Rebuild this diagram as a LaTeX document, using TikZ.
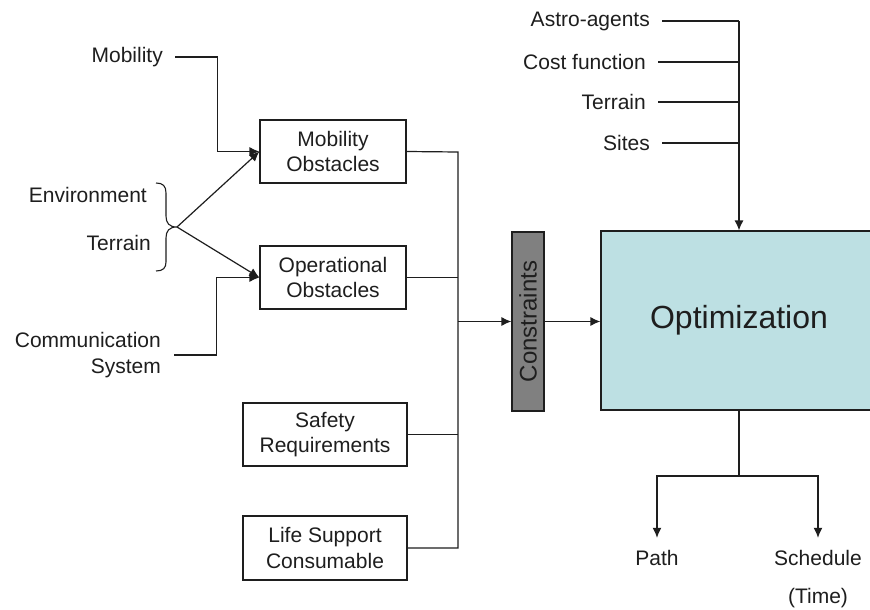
\documentclass[tikz,border=0pt]{standalone}
\usepackage{fontspec}
\setmainfont{Liberation Sans}
\usetikzlibrary{arrows.meta,calc}
\definecolor{optfill}{RGB}{189,224,227}
\definecolor{consfill}{RGB}{128,128,128}
\definecolor{ink}{RGB}{30,30,30}
\tikzset{
  txt/.style={font=\fontsize{21}{25.5}\selectfont, text=ink},
  lbl/.style={txt, inner xsep=12pt, inner ysep=2pt, align=right, anchor=east},
  boxnode/.style={txt, draw=ink, fill=white, line width=1.2pt, align=center, minimum height=63pt, inner sep=0pt},
  ln/.style={draw=ink, line width=1.2pt},
  arr/.style={ln, -{Latex[length=10pt,width=9pt]}},
  outnode/.style={txt, minimum height=40pt, inner sep=0pt}
}
\begin{document}
\begin{tikzpicture}[x=1pt,y=-1pt]
\useasboundingbox (0,0) rectangle (870,610);
\clip (0,0) rectangle (870,610);
\fill[white] (0,0) rectangle (870,610);

% boxes
\node[boxnode, minimum width=146pt] (mobobs) at (333,151.5) {Mobility\\Obstacles};
\node[boxnode, minimum width=146pt] (opobs) at (333,277.5) {Operational\\Obstacles};
\node[boxnode, minimum width=164pt] (safe) at (325,434.5) {Safety\\Requirements};
\node[boxnode, minimum width=164pt, minimum height=64pt] (life) at (325,548) {Life Support\\Consumable};

\node[draw=ink, fill=consfill, line width=1.2pt, minimum width=32pt, minimum height=179pt, inner sep=0pt] (cons) at (528,321.5) {};
\node[font=\fontsize{24}{28}\selectfont, text=ink, rotate=90] (constxt) at (cons.center) {Constraints};

\node[draw=ink, fill=optfill, line width=1.2pt, minimum width=276pt, minimum height=179pt, inner sep=0pt,
      font=\fontsize{32}{38}\selectfont, text=ink] (opt) at (739,320.5) {Optimization};

% left labels
\node[lbl] (mob) at (175,57) {Mobility};
\node[lbl, inner xsep=0pt] (env) at (147,195) {Environment};
\node[lbl, inner xsep=0pt] (ter) at (151,243) {Terrain};
\node[lbl, inner xsep=13pt] (comm) at (174,355) {Communication\\System};

% right-top labels
\node[lbl] (astro) at (662,21) {Astro-agents};
\node[lbl] (cost) at (658,62) {Cost function};
\node[lbl] (ter2) at (658,102) {Terrain};
\node[lbl] (sites) at (662,143) {Sites};

% outputs
\node[outnode] (path) at (657,558) {Path};
\node[outnode] (sched) at (818,558) {Schedule};
\node[txt, inner sep=0pt] (time) at (818,598) {(Time)};

% brace
\coordinate (brtip) at (177,227);
\draw[ln, line width=1.1pt] (156,183) .. controls (163,183) and (166,186) .. (166,193) -- (166,216)
  .. controls (166,223) and (169,227) .. (brtip)
  .. controls (169,227) and (166,231) .. (166,238) -- (166,262)
  .. controls (166,268) and (163,271) .. (156,271);

% left connectors
\draw[arr] (mob.east) -| ($(mobobs.west)+(-42,0)$) -- (mobobs.west);
\draw[arr] (brtip) -- (mobobs.west);
\draw[arr] (brtip) -- (opobs.west);
\draw[arr] (comm.east) -| ($(opobs.west)+(-43,0)$) -- (opobs.west);

% bus
\coordinate (bt) at (458,152);
\coordinate (bb) at (458,548);
\draw[ln] (mobobs.east) -- (bt) -- (bb) -- (life.east);
\draw[ln] (opobs.east) -- (opobs.east -| bt);
\draw[ln] (safe.east) -- (safe.east -| bt);
\draw[arr] (cons.west -| bt) -- (cons.west);
\draw[arr] (cons.east) -- (cons.east -| opt.west);

% top inputs
\coordinate (top) at (739,21);
\draw[ln] (astro.east) -- (top);
\draw[ln] (cost.east) -- (cost.east -| top);
\draw[ln] (ter2.east) -- (ter2.east -| top);
\draw[ln] (sites.east) -- (sites.east -| top);
\draw[arr] (top) -- (opt.north);

% outputs
\coordinate (sp) at (739,476);
\draw[ln] (opt.south) -- (sp);
\draw[arr] (sp) -| (path.north);
\draw[arr] (sp) -| (sched.north);
\end{tikzpicture}
\end{document}
